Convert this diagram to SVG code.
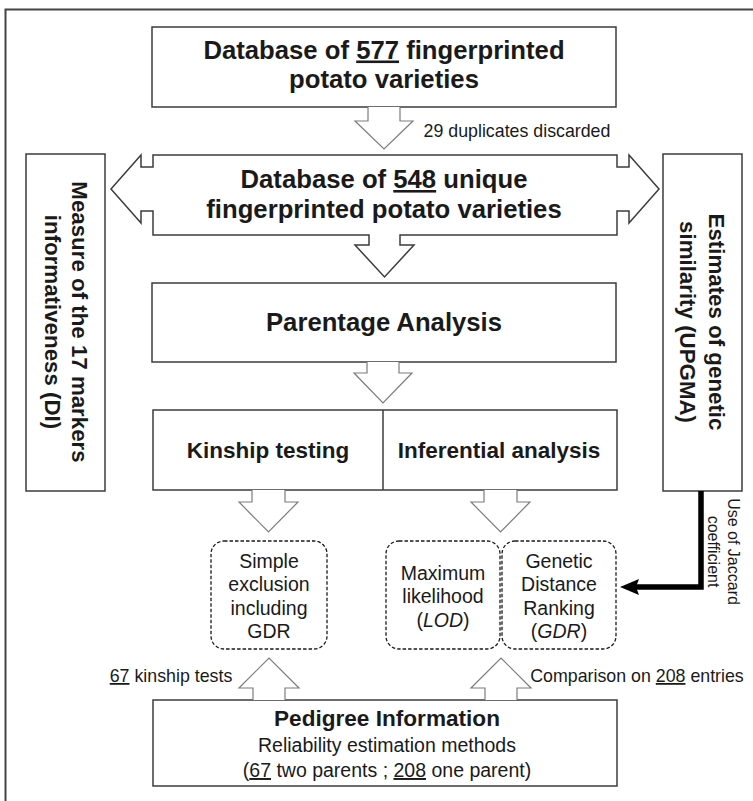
<svg xmlns="http://www.w3.org/2000/svg" width="753" height="801" viewBox="0 0 753 801">
  <style>
    .frame{fill:none;stroke:#444;stroke-width:2}
    .box{fill:#fff;stroke:#3c3c3c;stroke-width:1.5}
    .arr{fill:#fff;stroke:#7c7c7c;stroke-width:1.2}
    .dash{fill:none;stroke:#1a1a1a;stroke-width:1.3;stroke-dasharray:3.5 2}
    .t{font-family:"Liberation Sans",Arial,sans-serif;fill:#1a1a1a;text-anchor:middle}
    .b{font-weight:bold}
    .big{font-size:25.7px}
    .mid{font-size:22.5px}
    .side{font-size:22.3px}
    .sm{font-size:19.5px}
    .note{font-size:17.8px}
    .tiny{font-size:16px}
    .u{text-decoration:underline}
  </style>

  <!-- outer frame -->
  <rect class="frame" x="5.5" y="9.5" width="800" height="850"/>

  <!-- source database -->
  <g id="db577">
    <rect class="box" x="152" y="27" width="464" height="80"/>
    <text class="t b big" x="384" y="58.5">Database of <tspan class="u">577</tspan> fingerprinted</text>
    <text class="t b big" x="384" y="88">potato varieties</text>
  </g>

  <!-- unique database with arrows to both side analyses and down -->
  <g id="db548">
    <path class="box" d="M153,155 H617 V167 H629 V155 L659,189 L629,223 V211 H617 V235 H400 V245 H414 L384.5,277 L355,245 H369 V235 H153 V211 H141 V223 L111,189 L141,155 V167 H153 Z"/>
    <text class="t b big" x="384" y="188">Database of <tspan class="u">548</tspan> unique</text>
    <text class="t b big" x="384" y="218">fingerprinted potato varieties</text>
  </g>

  <g id="markers">
    <rect class="box" x="26" y="154" width="79" height="337"/>
    <text class="t b side" transform="translate(72,322) rotate(90)">Measure of the 17 markers</text>
    <text class="t b side" transform="translate(45,322) rotate(90)">informativeness (DI)</text>
  </g>

  <g id="similarity">
    <rect class="box" x="663" y="154" width="79" height="337"/>
    <text class="t b side" transform="translate(709,322) rotate(90)">Estimates of genetic</text>
    <text class="t b side" transform="translate(680,322) rotate(90)">similarity (UPGMA)</text>
  </g>

  <g id="parentage">
    <rect class="box" x="152" y="283" width="464" height="79"/>
    <text class="t b big" x="384" y="331">Parentage Analysis</text>
  </g>

  <g id="analysis">
    <rect class="box" x="153" y="410" width="464" height="80"/>
    <line class="box" x1="383" y1="410" x2="383" y2="490"/>
    <text class="t b mid" x="268" y="458">Kinship testing</text>
    <text class="t b mid" x="499" y="458">Inferential analysis</text>
  </g>

  <g id="exclusion">
    <rect class="dash" x="211" y="541" width="116" height="108" rx="13"/>
    <text class="t sm" x="269" y="568">Simple</text>
    <text class="t sm" x="269" y="591.3">exclusion</text>
    <text class="t sm" x="269" y="614.6">including</text>
    <text class="t sm" x="269" y="638">GDR</text>
  </g>

  <g id="likelihood">
    <rect class="dash" x="386" y="541" width="114" height="108" rx="13"/>
    <text class="t sm" x="443" y="580">Maximum</text>
    <text class="t sm" x="443" y="603.3">likelihood</text>
    <text class="t sm" x="443" y="626.6">(<tspan font-style="italic">LOD</tspan>)</text>
  </g>

  <g id="gdr">
    <rect class="dash" x="502" y="541" width="114" height="108" rx="13"/>
    <text class="t sm" x="559" y="568">Genetic</text>
    <text class="t sm" x="559" y="591.3">Distance</text>
    <text class="t sm" x="559" y="614.6">Ranking</text>
    <text class="t sm" x="559" y="638">(<tspan font-style="italic">GDR</tspan>)</text>
  </g>

  <g id="pedigree">
    <rect class="box" x="153" y="700" width="464" height="86"/>
    <text class="t b" font-size="22.6" x="387" y="726">Pedigree Information</text>
    <text class="t sm" x="387" y="752">Reliability estimation methods</text>
    <text class="t sm" x="387" y="777">(<tspan class="u">67</tspan> two parents ; <tspan class="u">208</tspan> one parent)</text>
  </g>

  <g id="connectors">
    <path class="arr" d="M368,107 V121 H355 L384,149 L413,121 H400 V107"/>
    <path class="arr" d="M367,362 V373 H354 L383,403 L412,373 H399 V362"/>
    <path class="arr" d="M252,490 V502 H239 L268.5,532 L298,502 H285 V490"/>
    <path class="arr" d="M484,490 V502 H471 L500.5,532 L530,502 H517 V490"/>
    <path class="arr" d="M253,700 V688 H239 L269,658 L299,688 H285 V700"/>
    <path class="arr" d="M485,700 V688 H471 L501,658 L531,688 H517 V700"/>
    <path d="M701,491 V587 H634" fill="none" stroke="#000" stroke-width="5.5"/>
    <polygon points="620,587 639,579 636,587 639,595" fill="#000"/>
  </g>

  <!-- connector labels -->
  <text class="t note" x="517" y="137">29 duplicates discarded</text>
  <text class="t note" x="171" y="682"><tspan class="u">67</tspan> kinship tests</text>
  <text class="t note" x="637" y="682">Comparison on <tspan class="u">208</tspan> entries</text>
  <text class="t tiny" transform="translate(728,551.5) rotate(90)">Use of Jaccard</text>
  <text class="t tiny" transform="translate(708,551.5) rotate(90)">coefficient</text>
</svg>
